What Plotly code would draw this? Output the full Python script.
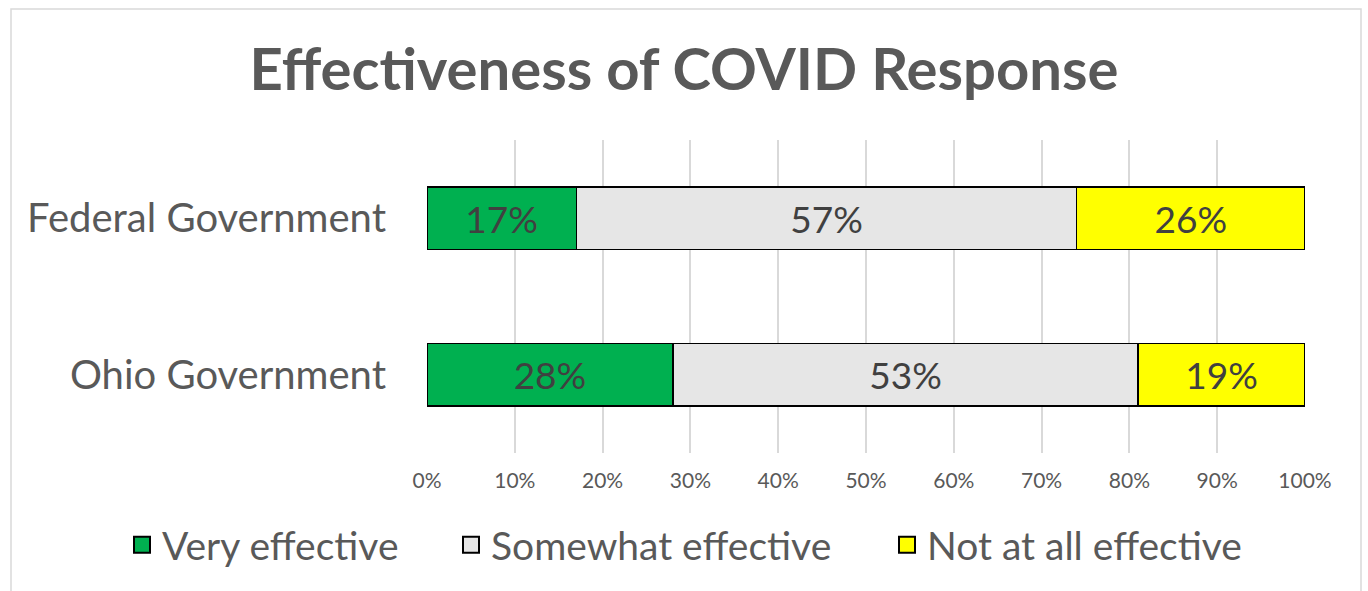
import plotly.graph_objects as go

categories = ["Federal Government", "Ohio Government"]
series_names = ["Very effective", "Somewhat effective", "Not at all effective"]
very_effective = [17, 28]
somewhat_effective = [57, 53]
not_effective = [26, 19]
colors = ["#00B050", "#E6E6E6", "#FFFF00"]
tick_vals = [0, 10, 20, 30, 40, 50, 60, 70, 80, 90, 100]
legend_widths = [284, 391, 330]

FONT = "Lato"
W, H = 1368, 591
ML, MR, MT, MB = 427, 63, 140, 138
pw = W - ML - MR
ph = H - MT - MB

fig = go.Figure()
for name, vals, col, lw in zip(series_names, [very_effective, somewhat_effective, not_effective], colors, legend_widths):
    fig.add_trace(go.Bar(
        y=categories, x=vals, name=name, orientation="h",
        marker=dict(color=col, line=dict(color="#000000", width=1.5)),
        text=[f"{v}%" for v in vals], textposition="inside", insidetextanchor="middle",
        textfont=dict(family=FONT, size=37, color="#404040"),
        constraintext="none", showlegend=False, legendgroup=name,
    ))
    # legend-only entry with a larger square symbol
    fig.add_trace(go.Scatter(
        x=[None], y=[None], mode="markers", name=name, legendgroup=name,
        marker=dict(symbol="square", size=16, color=col, line=dict(color="#000000", width=2)),
        legendwidth=lw, showlegend=True,
    ))

fig.add_shape(type="rect", xref="paper", yref="paper",
              x0=(11 - ML) / pw, x1=(1361 - ML) / pw,
              y0=(H - MB - 600) / ph, y1=(H - MB - 9) / ph,
              line=dict(color="#D9D9D9", width=1.5), fillcolor="rgba(0,0,0,0)", layer="below")

fig.update_layout(
    width=W, height=H,
    margin=dict(l=ML, r=MR, t=MT, b=MB, autoexpand=False),
    barmode="stack", bargap=0.6,
    plot_bgcolor="white", paper_bgcolor="white",
    title=dict(text="<b>Effectiveness of COVID Response</b>", x=0.5, xanchor="center",
               y=1 - 70 / H, yanchor="middle",
               font=dict(family=FONT, size=58, color="#595959")),
    xaxis=dict(range=[0, 100], tickvals=tick_vals, ticktext=[f"{t}%" for t in tick_vals],
               showgrid=True, gridcolor="#D9D9D9", gridwidth=1.5, zeroline=False,
               showline=False, ticks="", ticklabelstandoff=13,
               tickfont=dict(family=FONT, size=21, color="#595959"),
               fixedrange=True),
    yaxis=dict(autorange="reversed", showgrid=False, showline=False, ticks="",
               ticklabelstandoff=40,
               tickfont=dict(family=FONT, size=40, color="#595959")),
    legend=dict(orientation="h", xref="paper", x=(122 - ML) / pw, xanchor="left",
                yref="paper", y=(H - MB - 545) / ph, yanchor="middle",
                font=dict(family=FONT, size=39, color="#595959"), traceorder="normal",
                itemwidth=30, itemclick=False, itemdoubleclick=False),
    showlegend=True,
)
fig.write_html("out.html", config={"displayModeBar": False},
               post_script="document.body.style.margin='0';document.body.style.padding='0';")
